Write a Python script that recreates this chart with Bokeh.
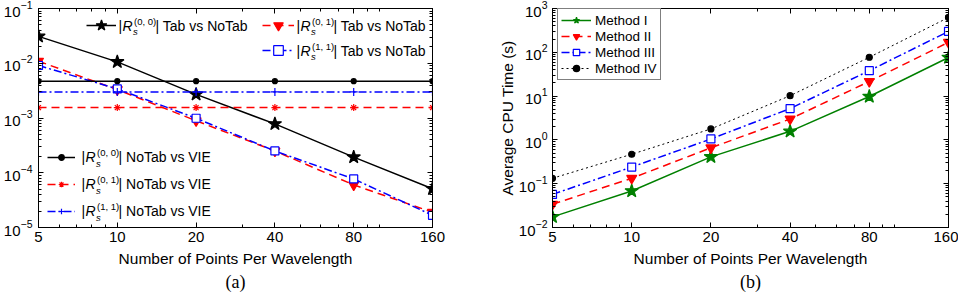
from bokeh.plotting import figure
from bokeh.models import (FixedTicker, LogAxis, Legend, LegendItem, Label, Range1d,
                          BasicTickFormatter, CustomJSTickFormatter, Title)
from bokeh.layouts import row
from bokeh.embed import file_html
from bokeh.resources import INLINE

# ---------------- data ----------------
ppw = [5, 10, 20, 40, 80, 160]

# panel (a): relative differences
r00_tab = [3.1e-2, 1.06e-2, 2.7e-3, 7.8e-4, 1.93e-4, 5.1e-5]
r01_tab = [1.09e-2, 3.3e-3, 8.9e-4, 2.5e-4, 6.0e-5, 1.9e-5]
r11_tab = [9.1e-3, 3.4e-3, 9.9e-4, 2.5e-4, 7.7e-5, 1.67e-5]
r00_vie = [4.7e-3, 4.7e-3, 4.7e-3, 4.7e-3, 4.7e-3, 4.7e-3]
r01_vie = [1.55e-3, 1.55e-3, 1.55e-3, 1.55e-3, 1.55e-3, 1.55e-3]
r11_vie = [3.0e-3, 3.0e-3, 3.0e-3, 3.0e-3, 3.0e-3, 3.0e-3]

sup_labels = ["(0, 0)", "(0, 1)", "(1, 1)"]

# panel (b): average CPU time (s)
method_names = ["Method I", "Method II", "Method III", "Method IV"]
m1 = [0.0175, 0.068, 0.41, 1.57, 9.8, 76]
m2 = [0.034, 0.133, 0.66, 3.0, 21.6, 169]
m3 = [0.057, 0.24, 1.05, 5.2, 38, 300]
m4 = [0.133, 0.47, 1.78, 10.2, 77, 624]

x_ticks = [5, 10, 20, 40, 80, 160]
x_minor = [6, 7, 8, 9, 30, 50, 60, 70, 90, 100]
ya_ticks = [1e-5, 1e-4, 1e-3, 1e-2, 1e-1]
yb_ticks = [1e-2, 1e-1, 1e0, 1e1, 1e2, 1e3]

FONT = "Liberation Sans"
SERIF = "Liberation Serif"
RED = "#ff0000"
BLUE = "#0000ff"
GREEN = "#008000"


def minor_of(major):
    return [k * m for m in major[:-1] for k in range(2, 10)]


def style_axis(ax, size="15px"):
    ax.major_tick_in = 5
    ax.major_tick_out = 0
    ax.minor_tick_in = 3
    ax.minor_tick_out = 0
    ax.axis_line_color = "black"
    ax.major_tick_line_color = "black"
    ax.minor_tick_line_color = "black"
    ax.major_label_text_font = FONT
    ax.major_label_text_font_size = size
    ax.major_label_text_color = "black"
    ax.axis_label_text_font = FONT
    ax.axis_label_text_font_size = "15.5px"
    ax.axis_label_text_font_style = "normal"
    ax.axis_label_text_color = "black"


def make_fig(width, yr, yt, borders, caption):
    l, r, t, b = borders
    p = figure(width=width, height=298, x_axis_type="log", y_axis_type="log",
               x_range=Range1d(5, 160), y_range=Range1d(*yr),
               output_backend="svg", toolbar_location=None,
               min_border_left=l, min_border_right=r, min_border_top=t,
               min_border_bottom=b)
    p.grid.visible = False
    p.outline_line_color = "black"
    p.outline_line_alpha = 1
    xt = FixedTicker(ticks=x_ticks, minor_ticks=x_minor)
    ytk = FixedTicker(ticks=yt, minor_ticks=minor_of(yt))
    p.xaxis.ticker = xt
    p.xaxis.formatter = BasicTickFormatter()
    p.yaxis.ticker = ytk
    p.xaxis.major_label_standoff = 4
    p.yaxis.major_label_standoff = 6
    p.xaxis.axis_label = "Number of Points Per Wavelength"
    p.xaxis.axis_label_standoff = 5
    for ax in p.xaxis + p.yaxis:
        style_axis(ax)
    # mirrored ticks on top and right
    top = LogAxis(ticker=xt, formatter=CustomJSTickFormatter(code="return ''"))
    right = LogAxis(ticker=ytk, formatter=CustomJSTickFormatter(code="return ''"))
    for ax in (top, right):
        style_axis(ax, size="0px")
        ax.major_label_standoff = 0
    p.add_layout(top, "above")
    p.add_layout(right, "right")
    p.add_layout(Title(text=caption, align="center", text_font=SERIF,
                       text_font_size="18px", text_font_style="normal",
                       text_color="black", standoff=0, offset=0), "below")
    return p


def label(p, fx0, fy0, X, Y, text, size="14px", style="normal", font=FONT,
          align="left"):
    p.add_layout(Label(x=X - fx0, y=fy0 - Y, x_units="screen", y_units="screen",
                       text=text, text_font=font, text_font_size=size,
                       text_font_style=style, text_color="black",
                       text_baseline="middle", text_align=align))


def math_label(p, fx0, fy0, X, Y, sup, tail):
    label(p, fx0, fy0, X, Y, "|")
    label(p, fx0, fy0, X + 3.9, Y, "R", style="italic")
    label(p, fx0, fy0, X + 15.5, Y - 4.5, sup, size="9.5px")
    label(p, fx0, fy0, X + 14.5, Y + 6, "s", size="9.5px", style="italic")
    label(p, fx0, fy0, X + 37, Y, "| " + tail)


# ---------------- panel (a) ----------------
A_L, A_T, A_B = 38, 8, 228
pa = make_fig(480, (1e-5, 1e-1), ya_ticks, (A_L, 48, A_T, 298 - A_B), "(a)")

def series(p, y, color, dash, marker, msize, fill, lw=1.5):
    ln = p.line(ppw, y, line_color=color, line_width=lw, line_dash=dash)
    sc = p.scatter(ppw, y, marker=marker, size=msize, line_color=color,
                   fill_color=fill, line_width=1.2)
    return [ln, sc]

ra1 = series(pa, r00_tab, "black", "solid", "star", 14, "black")
ra2 = series(pa, r01_tab, RED, "8 5", "inverted_triangle", 10, RED)
ra3 = series(pa, r11_tab, BLUE, "8 3 2 3", "square", 8, "white")
ra4 = series(pa, r00_vie, "black", "solid", "circle", 5, "black")
ra5 = series(pa, r01_vie, RED, "8 5", "asterisk", 7, RED)
ra6 = series(pa, r11_vie, BLUE, "8 3 2 3", "cross", 8, BLUE)

def blank_legend(items, loc, gw, gh, sp):
    return Legend(items=[LegendItem(label=" ", renderers=r) for r in items],
                  location=loc, padding=0, margin=0, glyph_width=gw,
                  glyph_height=gh, label_height=gh, spacing=sp,
                  label_standoff=0, label_width=1, label_text_font_size="6px",
                  border_line_color=None, background_fill_alpha=0)

pa.add_layout(blank_legend([ra1], (86 - A_L, A_B - 40), 30, 28, 0))
pa.add_layout(blank_legend([ra2, ra3], (262 - A_L, A_B - 63), 32, 24, 1))
pa.add_layout(blank_legend([ra4, ra5, ra6], (47 - A_L, A_B - 218.5), 28, 14, 13))

math_label(pa, A_L, A_B, 118, 26, sup_labels[0], "Tab vs NoTab")
math_label(pa, A_L, A_B, 296, 26, sup_labels[1], "Tab vs NoTab")
math_label(pa, A_L, A_B, 296, 51, sup_labels[2], "Tab vs NoTab")
math_label(pa, A_L, A_B, 81, 157.5, sup_labels[0], "NoTab vs VIE")
math_label(pa, A_L, A_B, 81, 184.5, sup_labels[1], "NoTab vs VIE")
math_label(pa, A_L, A_B, 81, 211.5, sup_labels[2], "NoTab vs VIE")

# ---------------- panel (b) ----------------
B_L, B_T, B_B = 72, 7, 227   # frame offsets inside the second figure
FB_X = 552                   # frame left of (b) in page pixels
pb = make_fig(478, (1e-2, 1e3), yb_ticks, (B_L, 10, B_T, 298 - B_B), "(b)")
pb.yaxis[0].axis_label = "Average CPU Time (s)"
pb.yaxis[0].axis_label_standoff = 0
pb.yaxis[0].major_label_standoff = 5

rb1 = series(pb, m1, GREEN, "solid", "star", 14, GREEN)
rb2 = series(pb, m2, RED, "8 5", "inverted_triangle", 10, RED)
rb3 = series(pb, m3, BLUE, "8 3 2 3", "square", 8, "white")
rb4 = series(pb, m4, "black", "2 3", "circle", 6, "black", lw=1)

leg_b = Legend(items=[LegendItem(label=n, renderers=r)
                      for n, r in zip(method_names, [rb1, rb2, rb3, rb4])],
               location=(557 - FB_X, B_B - 80), padding=3, margin=0,
               glyph_width=30, glyph_height=16, label_height=16, spacing=0,
               label_standoff=4, label_text_font=FONT,
               label_text_font_size="13.5px", label_text_color="black",
               border_line_color="black", border_line_width=1,
               background_fill_color="white", background_fill_alpha=1)
pb.add_layout(leg_b)

layout = row(pa, pb)
open("out.html", "w").write(file_html(layout, INLINE))
